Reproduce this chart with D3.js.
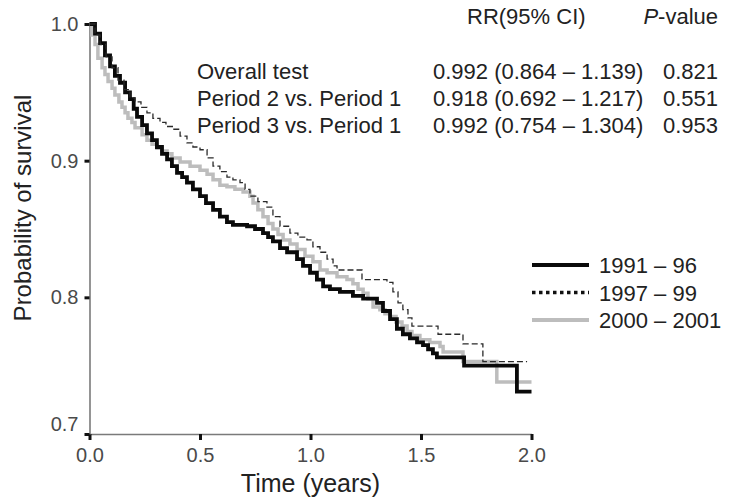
<!DOCTYPE html>
<html>
<head>
<meta charset="utf-8">
<script src="https://cdn.jsdelivr.net/npm/d3@7/dist/d3.min.js"></script>
<style>
  html, body { margin: 0; padding: 0; background: #fff; }
  svg { display: block; font-family: "Liberation Sans", Arial, Helvetica, sans-serif; }
</style>
</head>
<body>
<svg id="chart" width="749" height="499"></svg>
<script>
// Kaplan-Meier survival estimates by diagnosis period (time in years)
const time1991 = [0, 0.025, 0.048, 0.070, 0.093, 0.115, 0.138, 0.161, 0.183, 0.200, 0.215, 0.238, 0.260, 0.283, 0.305, 0.328, 0.351, 0.373, 0.396, 0.419, 0.441, 0.468, 0.500, 0.527, 0.559, 0.590, 0.622, 0.649, 0.713, 0.749, 0.785, 0.808, 0.830, 0.862, 0.894, 0.939, 0.966, 0.998, 1.029, 1.057, 1.088, 1.133, 1.192, 1.238, 1.301, 1.328, 1.360, 1.391, 1.418, 1.450, 1.482, 1.509, 1.532, 1.554, 1.572, 1.695, 1.934, 2.0];
const surv1991 = [1.0, 0.993, 0.986, 0.977, 0.969, 0.962, 0.957, 0.950, 0.945, 0.938, 0.932, 0.926, 0.920, 0.915, 0.910, 0.905, 0.901, 0.896, 0.891, 0.888, 0.884, 0.879, 0.874, 0.869, 0.864, 0.859, 0.855, 0.853, 0.852, 0.850, 0.847, 0.844, 0.841, 0.836, 0.833, 0.828, 0.823, 0.818, 0.813, 0.808, 0.806, 0.804, 0.801, 0.799, 0.796, 0.790, 0.784, 0.777, 0.773, 0.770, 0.767, 0.765, 0.762, 0.759, 0.756, 0.750, 0.731, 0.731];

const time1997 = [0, 0.025, 0.048, 0.075, 0.102, 0.129, 0.156, 0.183, 0.206, 0.233, 0.260, 0.287, 0.319, 0.346, 0.378, 0.410, 0.441, 0.468, 0.500, 0.532, 0.559, 0.590, 0.622, 0.649, 0.681, 0.704, 0.726, 0.762, 0.803, 0.830, 0.862, 0.907, 0.943, 0.984, 1.011, 1.043, 1.075, 1.102, 1.120, 1.233, 1.346, 1.373, 1.396, 1.418, 1.441, 1.459, 1.577, 1.690, 1.780, 1.980];
const surv1997 = [1.0, 0.992, 0.985, 0.976, 0.968, 0.959, 0.952, 0.946, 0.943, 0.939, 0.935, 0.931, 0.928, 0.925, 0.923, 0.918, 0.913, 0.910, 0.908, 0.902, 0.896, 0.892, 0.888, 0.886, 0.884, 0.879, 0.874, 0.870, 0.866, 0.859, 0.852, 0.847, 0.844, 0.842, 0.837, 0.833, 0.828, 0.823, 0.820, 0.813, 0.811, 0.804, 0.796, 0.791, 0.785, 0.779, 0.773, 0.766, 0.753, 0.753];

const time2000 = [0, 0.011, 0.025, 0.038, 0.057, 0.070, 0.084, 0.102, 0.115, 0.133, 0.147, 0.161, 0.174, 0.192, 0.206, 0.238, 0.260, 0.283, 0.305, 0.328, 0.351, 0.373, 0.410, 0.455, 0.500, 0.532, 0.559, 0.590, 0.622, 0.658, 0.695, 0.726, 0.740, 0.762, 0.785, 0.808, 0.830, 0.853, 0.876, 0.907, 0.939, 0.975, 1.011, 1.043, 1.075, 1.120, 1.165, 1.192, 1.215, 1.238, 1.260, 1.283, 1.314, 1.337, 1.360, 1.387, 1.414, 1.437, 1.459, 1.495, 1.540, 1.586, 1.600, 1.690, 1.843, 2.0];
const surv2000 = [1.0, 0.992, 0.985, 0.975, 0.968, 0.963, 0.958, 0.953, 0.948, 0.943, 0.939, 0.935, 0.931, 0.928, 0.924, 0.919, 0.915, 0.912, 0.909, 0.907, 0.905, 0.902, 0.899, 0.896, 0.893, 0.890, 0.886, 0.882, 0.881, 0.879, 0.877, 0.874, 0.869, 0.864, 0.859, 0.854, 0.850, 0.846, 0.842, 0.839, 0.835, 0.830, 0.826, 0.820, 0.818, 0.815, 0.813, 0.810, 0.806, 0.803, 0.799, 0.793, 0.791, 0.788, 0.786, 0.782, 0.779, 0.775, 0.772, 0.769, 0.767, 0.764, 0.760, 0.753, 0.738, 0.738];

const seriesNames = ["1991 \u2013 96", "1997 \u2013 99", "2000 \u2013 2001"];

const xTicks = [0, 0.5, 1.0, 1.5, 2.0];
const yTicks = [0.7, 0.8, 0.9, 1.0];

// Rate-ratio summary table
const tableHeaders = ["RR(95% CI)", "-value"];
const testLabels = ["Overall test", "Period 2 vs. Period 1", "Period 3 vs. Period 1"];
const rrValues = ["0.992 (0.864 \u2013 1.139)", "0.918 (0.692 \u2013 1.217)", "0.992 (0.754 \u2013 1.304)"];
const pValues = ["0.821", "0.551", "0.953"];

const svg = d3.select("#chart");

const x = d3.scaleLinear().domain([0, 2]).range([89.5, 531.5]);
const y = d3.scaleLinear().domain([0.7, 1.0]).range([434, 24]);

// axes
const gx = svg.append("g").attr("transform", "translate(0,434)")
  .call(d3.axisBottom(x).tickValues(xTicks).tickFormat(d3.format(".1f")).tickSize(6).tickSizeOuter(0).tickPadding(8));
const gy = svg.append("g").attr("transform", "translate(89.5,0)")
  .call(d3.axisLeft(y).tickValues(yTicks).tickFormat(d3.format(".1f")).tickSize(5).tickSizeOuter(0).tickPadding(6));

[gx, gy].forEach(g => {
  g.select(".domain").attr("stroke", "#7a7a7a").attr("stroke-width", 1.6);
  g.selectAll(".tick line").attr("stroke", "#111").attr("stroke-width", 3);
  g.selectAll(".tick text").attr("fill", "#4a4a4a").style("font-size", "20px")
    .style("font-family", "'Liberation Sans', Arial, sans-serif");
});
// keep the bottom y label clear of the corner
gy.selectAll(".tick text").filter(d => d === 0.7).attr("dy", "-0.18em");

svg.append("text")
  .attr("x", 310.5).attr("y", 492)
  .attr("text-anchor", "middle")
  .attr("fill", "#222")
  .style("font-size", "25px")
  .text("Time (years)");

svg.append("text")
  .attr("transform", "translate(31,208) rotate(-90)")
  .attr("text-anchor", "middle")
  .attr("fill", "#222")
  .style("font-size", "24px")
  .text("Probability of survival");

// survival curves
const line = d3.line().curve(d3.curveStepAfter).x(d => x(d[0])).y(d => y(d[1]));
const zipSeries = (t, s) => t.map((v, i) => [v, s[i]]);

svg.append("path").datum(zipSeries(time2000, surv2000))
  .attr("d", line).attr("fill", "none")
  .attr("stroke", "#bdbdbd").attr("stroke-width", 3.5);

svg.append("path").datum(zipSeries(time1991, surv1991))
  .attr("d", line).attr("fill", "none")
  .attr("stroke", "#0a0a0a").attr("stroke-width", 3.8);

svg.append("path").datum(zipSeries(time1997, surv1997))
  .attr("d", line).attr("fill", "none")
  .attr("stroke", "#2a2a2a").attr("stroke-width", 1.3)
  .attr("stroke-dasharray", "6,3");

// legend
const legendStyles = [
  { stroke: "#0a0a0a", width: 4, dash: null },
  { stroke: "#111", width: 3.5, dash: "3.5,3.5" },
  { stroke: "#bdbdbd", width: 4, dash: null }
];
const legend = svg.append("g").attr("transform", "translate(532,265)");
seriesNames.forEach((name, i) => {
  const row = legend.append("g").attr("transform", `translate(0,${i * 27.5})`);
  row.append("line").attr("x1", 0).attr("x2", 57).attr("y1", 0).attr("y2", 0)
    .attr("stroke", legendStyles[i].stroke)
    .attr("stroke-width", legendStyles[i].width)
    .attr("stroke-dasharray", legendStyles[i].dash);
  row.append("text").attr("x", 67).attr("y", 8)
    .attr("fill", "#222").style("font-size", "22px").text(name);
});

// summary table
const table = svg.append("g").style("font-size", "22px").attr("fill", "#222");
table.append("text").attr("x", 467).attr("y", 24).text(tableHeaders[0]);
const pHead = table.append("text").attr("x", 718).attr("y", 24).attr("text-anchor", "end");
pHead.append("tspan").style("font-style", "italic").text("P");
pHead.append("tspan").text(tableHeaders[1]);

testLabels.forEach((lab, i) => {
  const yy = 79 + i * 26.8;
  table.append("text").attr("x", 197).attr("y", yy).text(lab);
  table.append("text").attr("x", 433).attr("y", yy).text(rrValues[i]);
  table.append("text").attr("x", 718).attr("y", yy).attr("text-anchor", "end").text(pValues[i]);
});
</script>
</body>
</html>
